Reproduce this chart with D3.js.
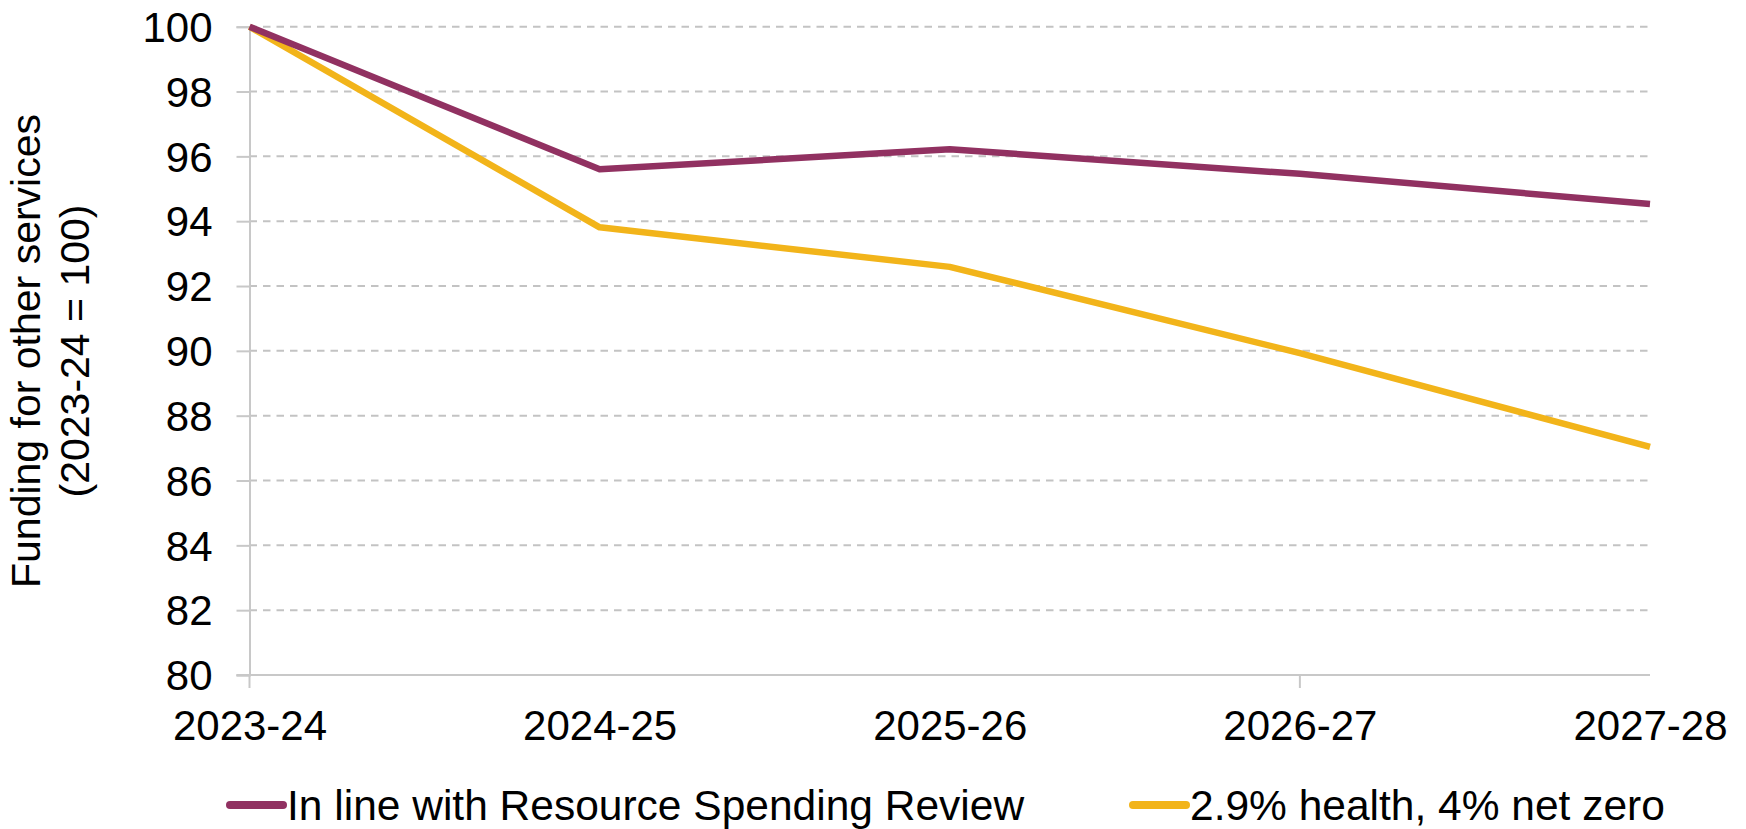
<!DOCTYPE html>
<html>
<head>
<meta charset="utf-8">
<script src="https://cdn.jsdelivr.net/npm/d3@7"></script>
<style>
	body { margin: 0; background: #ffffff; }
	svg text { font-family: "Liberation Sans", Arial, sans-serif; fill: #000000; }
</style>
</head>
<body>
<div id="chart"></div>
<script>

var width = 1746,
	height = 829;

// data
var years = ['2023-24', '2024-25', '2025-26', '2026-27', '2027-28'];
var spendingReview = [100, 95.6, 96.22, 95.46, 94.53];
var healthNetZero = [100, 93.81, 92.59, 89.93, 87.04];
var yTicks = [80, 82, 84, 86, 88, 90, 92, 94, 96, 98, 100];

var series = [
	{ name: 'In line with Resource Spending Review', values: spendingReview, color: '#913161' },
	{ name: '2.9% health, 4% net zero', values: healthNetZero, color: '#F2B41A' }
];

var svg = d3.select('#chart')
	.append('svg')
	.attr('width', width)
	.attr('height', height);

var x = d3.scalePoint()
	.domain(years)
	.range([249.5, 1650]);

var y = d3.scaleLinear()
	.domain([80, 100])
	.range([675, 26.7]);

// gridlines
svg.append('g')
	.selectAll('line.grid')
	.data(yTicks.filter(d => d !== 80))
	.enter()
	.append('line')
	.classed('grid', true)
	.attr('x1', x.range()[0])
	.attr('x2', x.range()[1])
	.attr('y1', d => y(d))
	.attr('y2', d => y(d))
	.style('stroke', '#C3C3C3')
	.style('stroke-width', 2)
	.style('stroke-dasharray', '7.5,6');

// y axis
var yAxis = svg.append('g')
	.attr('transform', 'translate(' + x.range()[0] + ',0)')
	.call(d3.axisLeft(y).tickValues(yTicks).tickSize(13).tickPadding(24));

yAxis.select('.domain')
	.style('stroke', '#C8C8C8')
	.style('stroke-width', 2);
yAxis.selectAll('.tick line')
	.style('stroke', '#C8C8C8')
	.style('stroke-width', 2);
yAxis.selectAll('.tick text')
	.style('font-size', '42px')
	.attr('dy', '0.35em');

// x axis
var xAxis = svg.append('g')
	.attr('transform', 'translate(0,' + y(80) + ')')
	.call(d3.axisBottom(x).tickSize(0).tickPadding(35));

xAxis.select('.domain')
	.attr('d', 'M' + (x.range()[0] - 13) + ',0H' + x.range()[1])
	.style('stroke', '#C8C8C8')
	.style('stroke-width', 2);
xAxis.selectAll('.tick text')
	.style('font-size', '42px')
	.attr('dy', '0.71em');

// excel only puts a tick mark every third category
xAxis.selectAll('line.xtick')
	.data(years.filter((d, i) => i % 3 === 0))
	.enter()
	.append('line')
	.classed('xtick', true)
	.attr('x1', d => x(d))
	.attr('x2', d => x(d))
	.attr('y1', 0)
	.attr('y2', 13)
	.style('stroke', '#C8C8C8')
	.style('stroke-width', 2);

// y axis title
svg.append('text')
	.attr('transform', 'translate(44,351) rotate(-90)')
	.attr('text-anchor', 'middle')
	.style('font-size', '41px')
	.selectAll('tspan')
	.data(['Funding for other services', '(2023-24 = 100)'])
	.enter()
	.append('tspan')
	.attr('x', 0)
	.attr('dy', (d, i) => i === 0 ? '-0.1em' : '1.2em')
	.text(d => d);

// lines
var lineGen = d3.line()
	.x((d, i) => x(years[i]))
	.y(d => y(d));

svg.append('g')
	.selectAll('path.series')
	.data(series.slice().reverse())
	.enter()
	.append('path')
	.classed('series', true)
	.attr('d', d => lineGen(d.values))
	.style('fill', 'none')
	.style('stroke', d => d.color)
	.style('stroke-width', 6.5)
	.style('stroke-linejoin', 'round');

// legend
var legendX = [230, 1133];
var legend = svg.append('g')
	.selectAll('g.legend')
	.data(series)
	.enter()
	.append('g')
	.classed('legend', true)
	.attr('transform', (d, i) => 'translate(' + legendX[i] + ',805)');

legend.append('line')
	.attr('x1', 0)
	.attr('x2', 53)
	.style('stroke', d => d.color)
	.style('stroke-width', 8)
	.style('stroke-linecap', 'round');

legend.append('text')
	.attr('x', 57)
	.attr('dy', '0.35em')
	.style('font-size', '42.5px')
	.text(d => d.name);

</script>
</body>
</html>
